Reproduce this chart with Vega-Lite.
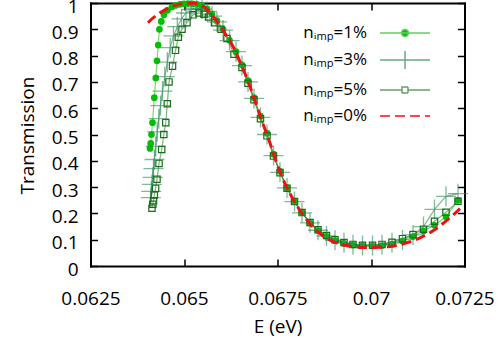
{
"$schema": "https://vega.github.io/schema/vega-lite/v6.json",
"width": 374, "height": 263,
"autosize": {"type": "none"},
"padding": {"left": 90.5, "top": 3, "right": 39.5, "bottom": 78},
"background": "white",
"config": {
  "font": "Open Sans",
  "view": {"stroke": null},
  "axis": {"grid": false, "domainColor": "black", "domainWidth": 2, "domainCap": "square", "tickColor": "black", "tickWidth": 1.5, "tickSize": -7, "labelFontSize": 19, "titleFontSize": 19, "labelColor": "black", "titleColor": "black", "titleFontWeight": "normal", "labelFlush": false, "labelOverlap": false}
},
"data": {"values": [
{"series":"0%","E":0.064037,"T":0.925},{"series":"0%","E":0.064144,"T":0.94},{"series":"0%","E":0.064251,"T":0.952},{"series":"0%","E":0.064358,"T":0.963},{"series":"0%","E":0.064492,"T":0.974},{"series":"0%","E":0.064626,"T":0.984},{"series":"0%","E":0.064759,"T":0.991},{"series":"0%","E":0.064893,"T":0.996},{"series":"0%","E":0.065027,"T":0.999},{"series":"0%","E":0.06516,"T":1.0},{"series":"0%","E":0.065294,"T":0.999},{"series":"0%","E":0.065428,"T":0.994},{"series":"0%","E":0.065561,"T":0.983},{"series":"0%","E":0.065695,"T":0.965},{"series":"0%","E":0.065829,"T":0.94},{"series":"0%","E":0.065963,"T":0.915},{"series":"0%","E":0.066096,"T":0.885},{"series":"0%","E":0.06623,"T":0.855},{"series":"0%","E":0.066364,"T":0.82},{"series":"0%","E":0.066497,"T":0.777},{"series":"0%","E":0.066631,"T":0.732},{"series":"0%","E":0.066765,"T":0.683},{"series":"0%","E":0.066898,"T":0.628},{"series":"0%","E":0.067032,"T":0.572},{"series":"0%","E":0.067166,"T":0.52},{"series":"0%","E":0.067299,"T":0.468},{"series":"0%","E":0.067433,"T":0.41},{"series":"0%","E":0.067567,"T":0.358},{"series":"0%","E":0.067701,"T":0.312},{"series":"0%","E":0.067834,"T":0.275},{"series":"0%","E":0.067968,"T":0.241},{"series":"0%","E":0.068102,"T":0.21},{"series":"0%","E":0.068235,"T":0.183},{"series":"0%","E":0.068369,"T":0.16},{"series":"0%","E":0.068503,"T":0.14},{"series":"0%","E":0.068636,"T":0.123},{"series":"0%","E":0.06877,"T":0.109},{"series":"0%","E":0.068904,"T":0.098},{"series":"0%","E":0.069037,"T":0.09},{"series":"0%","E":0.069171,"T":0.084},{"series":"0%","E":0.069305,"T":0.079},{"series":"0%","E":0.069439,"T":0.075},{"series":"0%","E":0.069572,"T":0.073},{"series":"0%","E":0.069706,"T":0.071},{"series":"0%","E":0.06984,"T":0.07},{"series":"0%","E":0.069973,"T":0.07},{"series":"0%","E":0.070107,"T":0.07},{"series":"0%","E":0.070241,"T":0.071},{"series":"0%","E":0.070374,"T":0.072},{"series":"0%","E":0.070508,"T":0.074},{"series":"0%","E":0.070642,"T":0.077},{"series":"0%","E":0.070775,"T":0.081},{"series":"0%","E":0.070909,"T":0.086},{"series":"0%","E":0.071043,"T":0.092},{"series":"0%","E":0.071176,"T":0.099},{"series":"0%","E":0.07131,"T":0.107},{"series":"0%","E":0.071444,"T":0.116},{"series":"0%","E":0.071578,"T":0.127},{"series":"0%","E":0.071711,"T":0.139},{"series":"0%","E":0.071845,"T":0.153},{"series":"0%","E":0.071979,"T":0.168},{"series":"0%","E":0.072112,"T":0.184},{"series":"0%","E":0.072246,"T":0.2},{"series":"0%","E":0.07238,"T":0.218},
{"series":"1%","E":0.064091,"T":0.447},{"series":"1%","E":0.06411,"T":0.466},{"series":"1%","E":0.064131,"T":0.5},{"series":"1%","E":0.064158,"T":0.545},{"series":"1%","E":0.064206,"T":0.64},{"series":"1%","E":0.064246,"T":0.715},{"series":"1%","E":0.064278,"T":0.78},{"series":"1%","E":0.06431,"T":0.84},{"series":"1%","E":0.064342,"T":0.9},{"series":"1%","E":0.064393,"T":0.93},{"series":"1%","E":0.064465,"T":0.955},{"series":"1%","E":0.064559,"T":0.972},{"series":"1%","E":0.064679,"T":0.985},{"series":"1%","E":0.064786,"T":0.991},{"series":"1%","E":0.064893,"T":0.995},{"series":"1%","E":0.065,"T":0.997},{"series":"1%","E":0.065107,"T":0.998},{"series":"1%","E":0.065227,"T":0.997},{"series":"1%","E":0.065348,"T":0.995},{"series":"1%","E":0.065481,"T":0.99},{"series":"1%","E":0.065615,"T":0.978},{"series":"1%","E":0.065749,"T":0.958},{"series":"1%","E":0.065882,"T":0.933},{"series":"1%","E":0.066043,"T":0.9},{"series":"1%","E":0.066217,"T":0.858},{"series":"1%","E":0.06639,"T":0.815},{"series":"1%","E":0.066551,"T":0.765},{"series":"1%","E":0.066711,"T":0.705},{"series":"1%","E":0.066872,"T":0.64},{"series":"1%","E":0.067045,"T":0.57},{"series":"1%","E":0.067219,"T":0.505},{"series":"1%","E":0.067393,"T":0.425},{"series":"1%","E":0.067567,"T":0.36},{"series":"1%","E":0.067754,"T":0.298},{"series":"1%","E":0.067955,"T":0.245},{"series":"1%","E":0.068155,"T":0.203},{"series":"1%","E":0.068369,"T":0.163},{"series":"1%","E":0.068583,"T":0.135},{"series":"1%","E":0.06881,"T":0.113},{"series":"1%","E":0.069037,"T":0.097},{"series":"1%","E":0.069278,"T":0.086},{"series":"1%","E":0.069519,"T":0.08},{"series":"1%","E":0.069773,"T":0.077},{"series":"1%","E":0.07004,"T":0.076},{"series":"1%","E":0.070294,"T":0.078},{"series":"1%","E":0.070561,"T":0.083},{"series":"1%","E":0.070842,"T":0.095},{"series":"1%","E":0.071123,"T":0.112},{"series":"1%","E":0.071404,"T":0.133},{"series":"1%","E":0.071698,"T":0.155},{"series":"1%","E":0.072005,"T":0.187},{"series":"1%","E":0.072326,"T":0.25},
{"series":"3%","E":0.064112,"T":0.26},{"series":"3%","E":0.064126,"T":0.284},{"series":"3%","E":0.064144,"T":0.31},{"series":"3%","E":0.064163,"T":0.337},{"series":"3%","E":0.064185,"T":0.37},{"series":"3%","E":0.064211,"T":0.405},{"series":"3%","E":0.064246,"T":0.455},{"series":"3%","E":0.064283,"T":0.51},{"series":"3%","E":0.064326,"T":0.56},{"series":"3%","E":0.064372,"T":0.61},{"series":"3%","E":0.064425,"T":0.665},{"series":"3%","E":0.064487,"T":0.72},{"series":"3%","E":0.064554,"T":0.775},{"series":"3%","E":0.064631,"T":0.83},{"series":"3%","E":0.064719,"T":0.875},{"series":"3%","E":0.064821,"T":0.91},{"series":"3%","E":0.064933,"T":0.94},{"series":"3%","E":0.065054,"T":0.962},{"series":"3%","E":0.065187,"T":0.975},{"series":"3%","E":0.065334,"T":0.98},{"series":"3%","E":0.065481,"T":0.977},{"series":"3%","E":0.065615,"T":0.968},{"series":"3%","E":0.065749,"T":0.95},{"series":"3%","E":0.065882,"T":0.928},{"series":"3%","E":0.066043,"T":0.897},{"series":"3%","E":0.066217,"T":0.857},{"series":"3%","E":0.06639,"T":0.815},{"series":"3%","E":0.066551,"T":0.762},{"series":"3%","E":0.066711,"T":0.7},{"series":"3%","E":0.066872,"T":0.637},{"series":"3%","E":0.067045,"T":0.565},{"series":"3%","E":0.067219,"T":0.5},{"series":"3%","E":0.067393,"T":0.42},{"series":"3%","E":0.067567,"T":0.356},{"series":"3%","E":0.067754,"T":0.297},{"series":"3%","E":0.067955,"T":0.245},{"series":"3%","E":0.068155,"T":0.202},{"series":"3%","E":0.068369,"T":0.164},{"series":"3%","E":0.068583,"T":0.136},{"series":"3%","E":0.06881,"T":0.114},{"series":"3%","E":0.069037,"T":0.098},{"series":"3%","E":0.069278,"T":0.088},{"series":"3%","E":0.069519,"T":0.081},{"series":"3%","E":0.069773,"T":0.078},{"series":"3%","E":0.07004,"T":0.078},{"series":"3%","E":0.070294,"T":0.081},{"series":"3%","E":0.070561,"T":0.088},{"series":"3%","E":0.070842,"T":0.1},{"series":"3%","E":0.071123,"T":0.118},{"series":"3%","E":0.071404,"T":0.15},{"series":"3%","E":0.071698,"T":0.215},{"series":"3%","E":0.072005,"T":0.265},{"series":"3%","E":0.072326,"T":0.275},
{"series":"5%","E":0.064144,"T":0.22},{"series":"5%","E":0.064166,"T":0.235},{"series":"5%","E":0.064185,"T":0.248},{"series":"5%","E":0.064206,"T":0.27},{"series":"5%","E":0.064241,"T":0.295},{"series":"5%","E":0.064278,"T":0.33},{"series":"5%","E":0.064332,"T":0.39},{"series":"5%","E":0.064404,"T":0.443},{"series":"5%","E":0.06446,"T":0.5},{"series":"5%","E":0.064513,"T":0.545},{"series":"5%","E":0.064554,"T":0.617},{"series":"5%","E":0.064599,"T":0.7},{"series":"5%","E":0.064693,"T":0.76},{"series":"5%","E":0.064773,"T":0.82},{"series":"5%","E":0.064848,"T":0.87},{"series":"5%","E":0.064947,"T":0.9},{"series":"5%","E":0.06508,"T":0.925},{"series":"5%","E":0.065241,"T":0.955},{"series":"5%","E":0.065401,"T":0.962},{"series":"5%","E":0.065535,"T":0.957},{"series":"5%","E":0.065655,"T":0.947},{"series":"5%","E":0.065816,"T":0.925},{"series":"5%","E":0.065989,"T":0.9},{"series":"5%","E":0.06615,"T":0.865},{"series":"5%","E":0.066337,"T":0.805},{"series":"5%","E":0.066551,"T":0.755},{"series":"5%","E":0.066711,"T":0.695},{"series":"5%","E":0.066872,"T":0.632},{"series":"5%","E":0.067045,"T":0.56},{"series":"5%","E":0.067219,"T":0.495},{"series":"5%","E":0.067393,"T":0.418},{"series":"5%","E":0.067567,"T":0.355},{"series":"5%","E":0.067754,"T":0.296},{"series":"5%","E":0.067955,"T":0.245},{"series":"5%","E":0.068155,"T":0.203},{"series":"5%","E":0.068369,"T":0.165},{"series":"5%","E":0.068583,"T":0.138},{"series":"5%","E":0.06881,"T":0.116},{"series":"5%","E":0.069037,"T":0.1},{"series":"5%","E":0.069278,"T":0.089},{"series":"5%","E":0.069519,"T":0.082},{"series":"5%","E":0.069773,"T":0.079},{"series":"5%","E":0.07004,"T":0.079},{"series":"5%","E":0.070294,"T":0.082},{"series":"5%","E":0.070561,"T":0.09},{"series":"5%","E":0.070842,"T":0.104},{"series":"5%","E":0.071123,"T":0.12},{"series":"5%","E":0.071404,"T":0.14},{"series":"5%","E":0.071698,"T":0.17},{"series":"5%","E":0.072005,"T":0.204},{"series":"5%","E":0.072326,"T":0.246}
]},
"resolve": {"axis": {"x": "independent", "y": "independent"}},
"layer": [
  {
    "encoding": {
      "x": {"field": "E", "type": "quantitative", "scale": {"domain": [0.0625, 0.0725], "nice": false, "zero": false},
            "axis": {"values": [0.0625, 0.065, 0.0675, 0.07, 0.0725], "labelExpr": "format(datum.value, '.4~g')", "labelBaseline": "alphabetic", "labelPadding": 45.3, "title": "E (eV)", "titleX": 187, "titleY": 66, "titleBaseline": "alphabetic", "titleAlign": "center"}},
      "y": {"field": "T", "type": "quantitative", "scale": {"domain": [0, 1], "nice": false, "zero": false},
            "axis": {"values": [0, 0.1, 0.2, 0.3, 0.4, 0.5, 0.6, 0.7, 0.8, 0.9, 1], "labelExpr": "format(datum.value, '.2~g')", "labelBaseline": "alphabetic", "labelOffset": 9, "labelPadding": 19.5, "title": "Transmission", "titleX": -57.5, "titleY": 132, "titleAngle": 270, "titleAlign": "center", "titleBaseline": "alphabetic"}}
    },
    "layer": [
      {"transform": [{"filter": "datum.series !== '0%'"}],
       "mark": {"type": "line", "strokeWidth": 1.2, "opacity": 0.6},
       "encoding": {"stroke": {"field": "series", "type": "nominal", "legend": null,
          "scale": {"domain": ["1%", "3%", "5%"], "range": ["#22bb22", "#2e8b57", "#2f7f2f"]}}}},
      {"transform": [{"filter": "datum.series === '1%'"}],
       "mark": {"type": "point", "shape": "circle", "filled": true, "color": "#00c000", "size": 45, "opacity": 1}},
      {"transform": [{"filter": "datum.series === '3%'"}],
       "mark": {"type": "point", "shape": "M-1,0H1M0,-1V1", "filled": false, "color": "#2e8b57", "size": 400, "strokeWidth": 1.3, "opacity": 0.6}},
      {"transform": [{"filter": "datum.series === '5%'"}],
       "mark": {"type": "point", "shape": "square", "filled": false, "color": "#1a6e1a", "size": 40, "strokeWidth": 1.2, "opacity": 1}},
      {"transform": [{"filter": "datum.series === '0%'"}],
       "mark": {"type": "line", "strokeWidth": 3, "strokeDash": [10, 5], "color": "#ee1111"}},
      {"transform": [{"filter": "false"}],
       "mark": {"type": "point", "filled": false},
       "encoding": {
         "color": {"field": "series", "type": "nominal",
           "scale": {"domain": ["1%", "3%", "5%", "0%"], "range": ["#66cc66", "#6aaa84", "#6a9f6a", "#ee1111"]},
           "legend": {"orient": "none", "legendX": 303.5, "legendY": 19, "title": null, "padding": 0, "offset": 0,
             "symbolSize": 400, "symbolOpacity": 1, "rowPadding": 7, "labelAlign": "right", "labelOffset": -49,
             "labelFontSize": 17, "labelColor": "black", "labelLimit": 0, "labelExpr": "'nᵢₘₚ=' + datum.label"}},
         "shape": {"field": "series", "type": "nominal",
           "scale": {"domain": ["1%", "3%", "5%", "0%"], "range": ["M-2.5,0H2.5M0.35,0A0.35,0.35,0,1,1,-0.35,0A0.35,0.35,0,1,1,0.35,0", "M-2.5,0H2.5M0,-0.9V0.9", "M-2.5,0H-0.3M0.3,0H2.5M-0.3,-0.3H0.3V0.3H-0.3Z", "M-2.5,0H2.5"]}},
         "fill": {"field": "series", "type": "nominal",
           "scale": {"domain": ["1%", "3%", "5%", "0%"], "range": ["#00c000", "transparent", "transparent", "transparent"]}},
         "strokeDash": {"field": "series", "type": "nominal",
           "scale": {"domain": ["1%", "3%", "5%", "0%"], "range": [[1, 0], [1, 0], [1, 0], [10, 5]]}},
         "strokeWidth": {"field": "series", "type": "ordinal",
           "scale": {"domain": ["1%", "3%", "5%", "0%"], "range": [1.5, 1.5, 1.5, 3]}}
       }}
    ]
  },
  {
    "mark": {"type": "point", "opacity": 0},
    "encoding": {
      "x": {"field": "E", "type": "quantitative", "scale": {"domain": [0.0625, 0.0725], "nice": false, "zero": false},
            "axis": {"orient": "top", "values": [0.0625, 0.065, 0.0675, 0.07, 0.0725], "labels": false, "title": null}},
      "y": {"field": "T", "type": "quantitative", "scale": {"domain": [0, 1], "nice": false, "zero": false},
            "axis": {"orient": "right", "values": [0, 0.1, 0.2, 0.3, 0.4, 0.5, 0.6, 0.7, 0.8, 0.9, 1], "labels": false, "title": null}}
    }
  }
]
}
